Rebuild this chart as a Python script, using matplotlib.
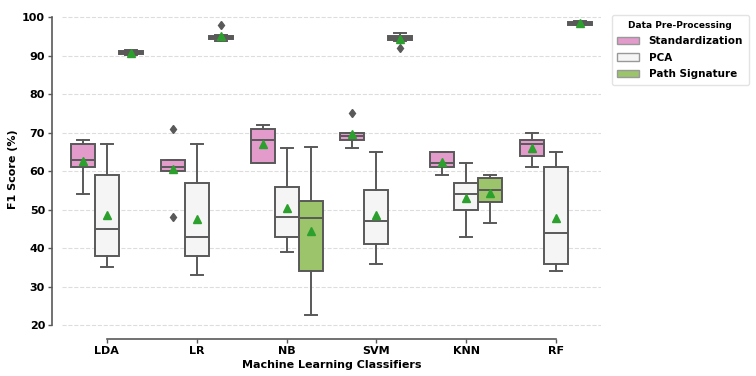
import numpy as np
import matplotlib.pyplot as plt
from matplotlib.patches import Patch

plt.rcParams['font.family'] = 'DejaVu Sans'
plt.rcParams['font.weight'] = 'bold'
plt.rcParams['axes.labelweight'] = 'bold'

classifiers = ['LDA', 'LR', 'NB', 'SVM', 'KNN', 'RF']
methods = ['Standardization', 'PCA', 'Path Signature']
colors = ['#e29bcb', '#f5f5f5', '#9bc46b']

# box statistics, one list per method, in classifier order
std_whislo = [54, 60, 62, 66, 59, 61]
std_q1 = [61, 60, 62, 68, 61, 64]
std_med = [63, 61, 68, 69, 62, 67]
std_q3 = [67, 63, 71, 70, 65, 68]
std_whishi = [68, 63, 72, 70, 65, 70]
std_mean = [62.5, 60.5, 67.0, 69.7, 62.3, 65.9]
std_fliers = [[], [71, 48], [], [75], [], []]

pca_whislo = [35, 33, 39, 36, 43, 34]
pca_q1 = [38, 38, 43, 41, 50, 36]
pca_med = [45, 43, 48, 47, 54, 44]
pca_q3 = [59, 57, 56, 55, 57, 61]
pca_whishi = [67, 67, 66, 65, 62, 65]
pca_mean = [48.7, 47.5, 50.3, 48.7, 53.1, 47.9]
pca_fliers = [[], [], [], [], [], []]

ps_whislo = [90.2, 93.8, 22.6, 93.9, 46.5, 97.9]
ps_q1 = [90.5, 94.4, 34, 94.0, 52, 98.0]
ps_med = [91.0, 94.8, 47.7, 94.6, 55, 98.4]
ps_q3 = [91.3, 95.2, 52.2, 95.2, 58.3, 98.8]
ps_whishi = [91.5, 95.4, 66.2, 96.0, 59, 98.9]
ps_mean = [90.7, 95.0, 44.5, 94.4, 54.2, 98.4]
ps_fliers = [[], [98], [], [92], [], []]

groups = [
    (std_whislo, std_q1, std_med, std_q3, std_whishi, std_mean, std_fliers),
    (pca_whislo, pca_q1, pca_med, pca_q3, pca_whishi, pca_mean, pca_fliers),
    (ps_whislo, ps_q1, ps_med, ps_q3, ps_whishi, ps_mean, ps_fliers),
]

fig = plt.figure(figsize=(7.56, 3.76), dpi=100)
ax = fig.add_axes([0.082, 0.125, 0.713, 0.85])

edge = '#595959'
width = 0.8 / 3
x = np.arange(len(classifiers))
for j, (lo, q1, med, q3, hi, mean, fl) in enumerate(groups):
    stats = []
    for i in range(len(classifiers)):
        stats.append(dict(whislo=lo[i], q1=q1[i], med=med[i], q3=q3[i],
                          whishi=hi[i], mean=mean[i], fliers=fl[i]))
    pos = x + (j - 1) * width
    ax.bxp(stats, positions=pos, widths=width, patch_artist=True,
           showmeans=True, manage_ticks=False,
           boxprops=dict(facecolor=colors[j], edgecolor=edge, linewidth=1.4),
           medianprops=dict(color=edge, linewidth=1.4),
           whiskerprops=dict(color=edge, linewidth=1.4),
           capprops=dict(color=edge, linewidth=1.4),
           meanprops=dict(marker='^', markerfacecolor='#2ca02c',
                          markeredgecolor='#2ca02c', markersize=5.5),
           flierprops=dict(marker='d', markerfacecolor=edge,
                           markeredgecolor=edge, markersize=4.5))

ax.set_xlim(-0.5, len(classifiers) - 0.5)
ax.set_ylim(19, 102)
ax.set_xticks(x)
ax.set_xticklabels(classifiers)
ax.set_yticks(np.arange(20, 101, 10))
ax.tick_params(labelsize=8, colors=edge, labelcolor='black', width=1.0, length=3, pad=2)
ax.yaxis.grid(True, linestyle='--', color='#dddddd', linewidth=0.8)
ax.set_axisbelow(True)

for s in ['top', 'right']:
    ax.spines[s].set_visible(False)
ax.spines['left'].set_position(('outward', 7.2))
ax.spines['bottom'].set_position(('outward', 7.2))
ax.spines['left'].set_bounds(20, 100)
ax.spines['bottom'].set_bounds(0, len(classifiers) - 1)
for s in ['left', 'bottom']:
    ax.spines[s].set_color(edge)
    ax.spines[s].set_linewidth(1.2)

ax.set_xlabel('Machine Learning Classifiers', fontsize=8, labelpad=3)
ax.set_ylabel('F1 Score (%)', fontsize=8, labelpad=3)

handles = [Patch(facecolor=colors[k], edgecolor='#999999', label=methods[k]) for k in range(3)]
leg = fig.legend(handles=handles, title='Data Pre-Processing', loc='upper left',
                 bbox_to_anchor=(0.809, 0.96), borderaxespad=0,
                 prop=dict(weight='bold', size=7.5),
                 title_fontproperties=dict(weight='bold', size=6.5),
                 frameon=True, handlelength=2.1, handleheight=0.75, borderpad=0.55,
                 labelspacing=0.62, handletextpad=0.9)
leg.get_frame().set_edgecolor('#dddddd')

fig.savefig('out.png', dpi=100)
